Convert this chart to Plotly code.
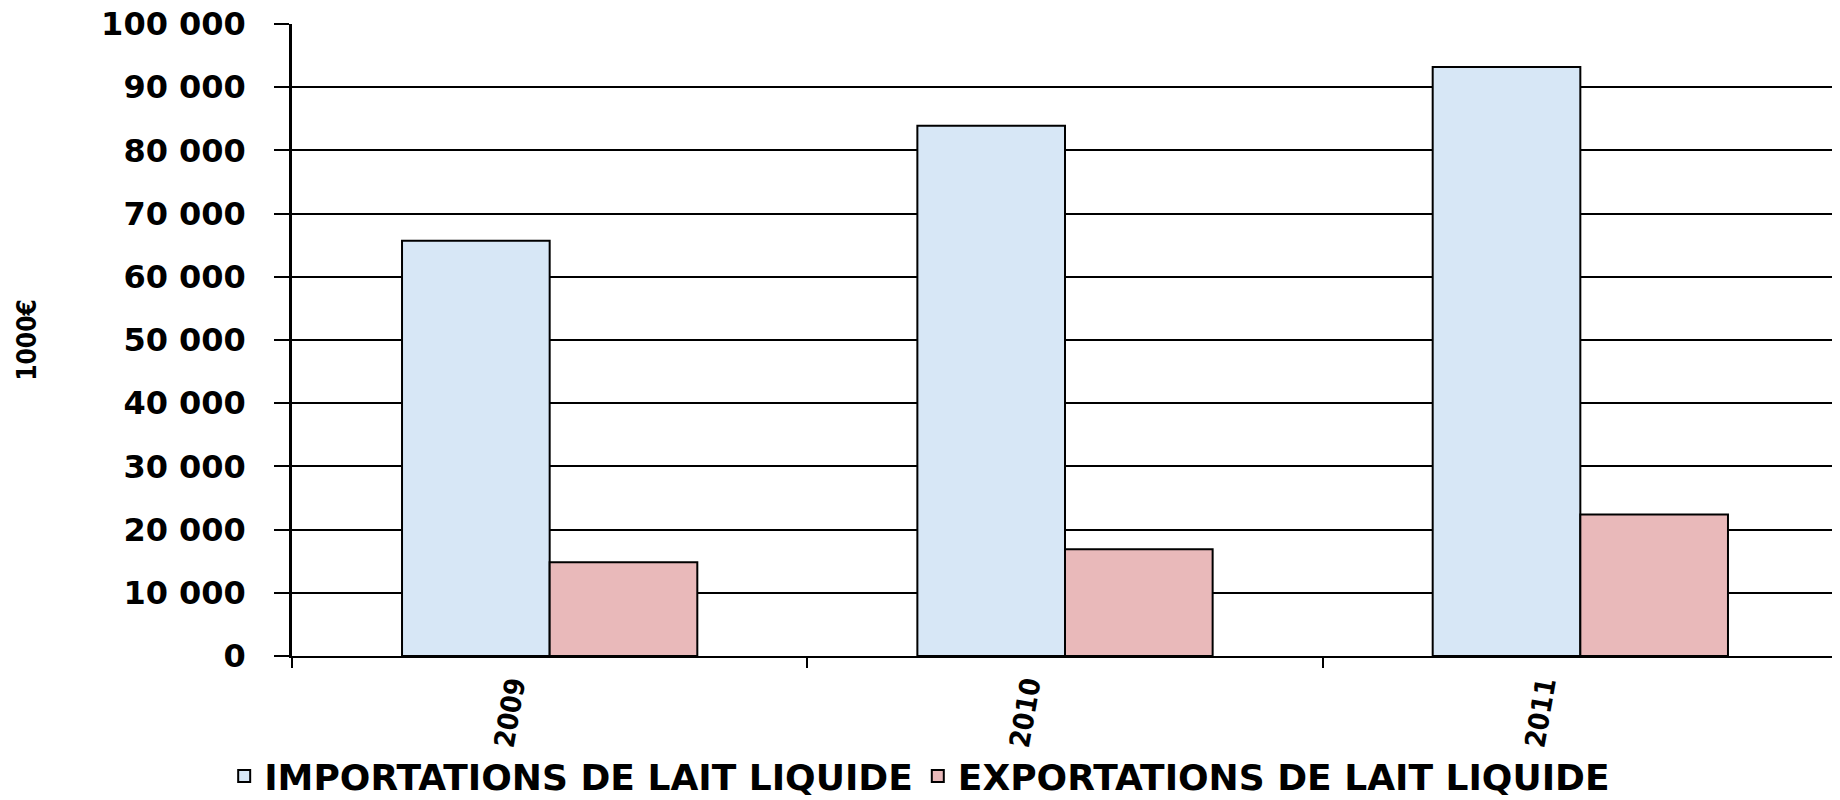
import plotly.graph_objects as go

years = ["2009", "2010", "2011"]
imports = [65700, 83900, 93200]
exports = [14850, 16900, 22400]
y_ticks = [0, 10000, 20000, 30000, 40000, 50000, 60000, 70000, 80000, 90000, 100000]
y_tick_labels = ["0", "10 000", "20 000", "30 000", "40 000", "50 000",
                 "60 000", "70 000", "80 000", "90 000", "100 000"]

fig = go.Figure()

fig.add_trace(go.Bar(
    x=years,
    y=imports,
    name="IMPORTATIONS DE LAIT LIQUIDE",
    marker=dict(color="#d7e7f6", line=dict(color="black", width=2)),
))

fig.add_trace(go.Bar(
    x=years,
    y=exports,
    name="EXPORTATIONS DE LAIT LIQUIDE",
    marker=dict(color="#e9b9ba", line=dict(color="black", width=2)),
))

# page body has an 8px margin, so the figure is a bit smaller than the window
fig.update_layout(
    width=1832,
    height=792,
    barmode="group",
    bargap=0.427,
    bargroupgap=0,
    plot_bgcolor="white",
    paper_bgcolor="white",
    margin=dict(l=284, r=2, t=16, b=144, autoexpand=False),
    font=dict(family="DejaVu Sans", color="black"),
    showlegend=True,
    legend=dict(
        orientation="h",
        x=0.406,
        xanchor="center",
        y=-0.19,
        yanchor="middle",
        bgcolor="rgba(0,0,0,0)",
        font=dict(family="DejaVu Sans", size=36, weight="bold"),
        itemwidth=30,
        traceorder="normal",
    ),
    xaxis=dict(
        automargin=False,
        showline=True,
        linecolor="black",
        linewidth=2,
        ticks="outside",
        tickson="boundaries",
        ticklen=10,
        tickwidth=1.5,
        tickcolor="black",
        tickangle=-80,
        ticklabelshift=-38,
        ticklabeloverflow="allow",
        tickfont=dict(family="DejaVu Sans Condensed", size=28, weight="bold"),
    ),
    yaxis=dict(
        automargin=False,
        range=[0, 100000],
        tickvals=y_ticks,
        ticktext=y_tick_labels,
        showline=True,
        linecolor="black",
        linewidth=2.5,
        showgrid=True,
        gridcolor="black",
        gridwidth=1.5,
        ticks="outside",
        ticklen=15,
        tickwidth=1.5,
        tickcolor="black",
        ticklabelstandoff=22,
        ticklabeloverflow="allow",
        tickfont=dict(family="DejaVu Sans", size=32, weight="bold"),
        zeroline=False,
        title=dict(
            text="1000€",
            font=dict(family="DejaVu Sans Condensed", size=26, weight="bold"),
            standoff=58,
        ),
    ),
)

fig.write_html("out.html")
